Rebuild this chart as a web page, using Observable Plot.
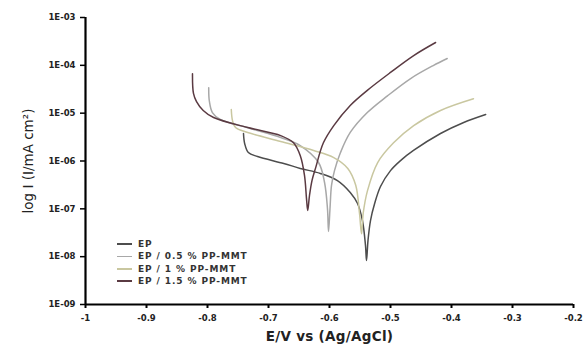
<!DOCTYPE html>
<html>
<head>
<meta charset="utf-8">
<script src="https://cdn.jsdelivr.net/npm/d3@7"></script>
<script src="https://cdn.jsdelivr.net/npm/@observablehq/plot@0.6"></script>
<style>
  html, body { margin: 0; padding: 0; background: #fff; }
  #wrap { position: relative; width: 583px; height: 344px; }
  #legend { position: absolute; left: 117px; top: 238px; font-family: "DejaVu Sans", sans-serif; font-weight: bold; font-size: 9px; letter-spacing: 0.9px; color: #333; }
  .row { display: flex; align-items: center; height: 12.3px; }
  .sw { width: 15px; height: 1.6px; margin-right: 6px; }
</style>
</head>
<body>
<div id="wrap"></div>
<script>
// Series names and colours
const series = ["EP", "EP / 0.5 % PP-MMT", "EP / 1 % PP-MMT", "EP / 1.5 % PP-MMT"];
const colors = ["#4d4d4d", "#a8a8a8", "#c9c7a0", "#5a3a42"];

// EP
const E_EP = [-0.741, -0.739, -0.733, -0.718, -0.675, -0.648, -0.615, -0.587, -0.566, -0.554, -0.546, -0.541, -0.5393, -0.5369, -0.5328, -0.526, -0.5164, -0.500, -0.4836, -0.4623, -0.418, -0.380, -0.344];
const I_EP = [3.76e-6, 2.3e-6, 1.5e-6, 1.24e-6, 8.9e-7, 7.0e-7, 5.5e-7, 3.9e-7, 2.2e-7, 1.29e-7, 5.7e-8, 1.71e-8, 8.3e-9, 2.17e-8, 5.7e-8, 1.29e-7, 2.93e-7, 6.3e-7, 1.02e-6, 1.66e-6, 3.76e-6, 6.4e-6, 9.4e-6];

// EP / 0.5 % PP-MMT
const E_05 = [-0.798, -0.797, -0.792, -0.779, -0.730, -0.680, -0.648, -0.618, -0.6082, -0.6033, -0.6016, -0.5992, -0.5967, -0.5918, -0.582, -0.566, -0.538, -0.505, -0.467, -0.430, -0.407];
const I_05 = [3.4e-5, 1.8e-5, 1.03e-5, 7.4e-6, 4.8e-6, 3.1e-6, 2.1e-6, 9.3e-7, 3.6e-7, 1.0e-7, 3.35e-8, 1.0e-7, 3.1e-7, 6.3e-7, 1.5e-6, 3.95e-6, 1.03e-5, 2.3e-5, 5.3e-5, 9.9e-5, 1.39e-4];

// EP / 1 % PP-MMT
const E_1 = [-0.761, -0.759, -0.754, -0.734, -0.680, -0.626, -0.593, -0.570, -0.557, -0.5508, -0.5475, -0.5448, -0.5377, -0.521, -0.495, -0.462, -0.418, -0.364];
const I_1 = [1.19e-5, 7.0e-6, 5.0e-6, 3.95e-6, 2.56e-6, 1.66e-6, 1.18e-6, 7.0e-7, 3.1e-7, 8.0e-8, 3.0e-8, 8.0e-8, 2.4e-7, 9.3e-7, 2.4e-6, 5.5e-6, 1.14e-5, 2.0e-5];

// EP / 1.5 % PP-MMT
const E_15 = [-0.8246, -0.823, -0.818, -0.807, -0.790, -0.734, -0.680, -0.659, -0.648, -0.641, -0.6377, -0.6357, -0.6328, -0.6287, -0.623, -0.610, -0.593, -0.566, -0.538, -0.500, -0.462, -0.426];
const I_15 = [6.7e-5, 2.6e-5, 1.75e-5, 1.14e-5, 8.1e-6, 5.0e-6, 3.4e-6, 2.4e-6, 1.3e-6, 5.0e-7, 1.64e-7, 9.2e-8, 1.9e-7, 3.9e-7, 7.0e-7, 2.4e-6, 5.5e-6, 1.45e-5, 3.0e-5, 7.1e-5, 1.6e-4, 3.0e-4];

// Ticks
const xTicks = [-1, -0.9, -0.8, -0.7, -0.6, -0.5, -0.4, -0.3, -0.2];
const xTickLabels = ["-1", "-0.9", "-0.8", "-0.7", "-0.6", "-0.5", "-0.4", "-0.3", "-0.2"];
const yTicks = [1e-9, 1e-8, 1e-7, 1e-6, 1e-5, 1e-4, 1e-3];
const yTickLabels = ["1E-09", "1E-08", "1E-07", "1E-06", "1E-05", "1E-04", "1E-03"];

const xTitle = "E/V vs (Ag/AgCl)";
const yTitle = "log I (I/mA cm²)";

const sets = [[E_EP, I_EP], [E_05, I_05], [E_1, I_1], [E_15, I_15]];
const data = sets.flatMap(([E, I], s) => E.map((e, i) => ({E: e, I: I[i], s: series[s]})));

const plot = Plot.plot({
  width: 583,
  height: 344,
  marginLeft: 85,
  marginRight: 10,
  marginTop: 17,
  marginBottom: 40,
  style: {fontFamily: "'DejaVu Sans', sans-serif", background: "#fff", overflow: "visible"},
  x: {domain: [-1, -0.2]},
  y: {type: "log", domain: [1e-9, 1e-3]},
  color: {domain: series, range: colors},
  marks: [
    Plot.axisX({ticks: xTicks, tickFormat: (d) => xTickLabels[xTicks.indexOf(d)], tickSize: 4, tickPadding: 6, strokeWidth: 2, stroke: "#000",
      fontSize: 8.5, fontWeight: "bold", fill: "#222", style: "letter-spacing:0.9px",
      label: xTitle, labelAnchor: "center", labelOffset: 36, labelArrow: false}),
    Plot.axisY({ticks: yTicks, tickFormat: (d) => yTickLabels[yTicks.indexOf(d)], tickSize: 5, tickPadding: 5, strokeWidth: 1.5, stroke: "#000",
      fontSize: 8.5, fontWeight: "bold", fill: "#222", style: "letter-spacing:1.2px",
      label: yTitle, labelAnchor: "center", labelOffset: 62, labelArrow: false}),
    Plot.ruleX([-1], {stroke: "#000", strokeWidth: 2.2}),
    Plot.ruleY([1e-9], {stroke: "#000", strokeWidth: 2.2}),
    Plot.line(data, {x: "E", y: "I", z: "s", stroke: "s", strokeWidth: 1.5, curve: "catmull-rom"})
  ]
});

const wrap = document.getElementById("wrap");
wrap.appendChild(plot);

// style axis titles
plot.querySelectorAll("g[aria-label='x-axis label'] text, g[aria-label='x-axis label']").forEach(el => {
  el.setAttribute("font-size", "13.5"); el.setAttribute("font-weight", "bold"); el.style.letterSpacing = "0.3px"; el.setAttribute("fill", "#222");
});
plot.querySelectorAll("g[aria-label='y-axis label'] text, g[aria-label='y-axis label']").forEach(el => {
  el.setAttribute("font-size", "13.5"); el.setAttribute("font-weight", "normal"); el.style.letterSpacing = "0px"; el.setAttribute("fill", "#222");
});

// legend
const leg = document.createElement("div");
leg.id = "legend";
series.forEach((name, i) => {
  const row = document.createElement("div");
  row.className = "row";
  const sw = document.createElement("span");
  sw.className = "sw";
  sw.style.background = colors[i];
  const t = document.createElement("span");
  t.textContent = name;
  row.appendChild(sw); row.appendChild(t);
  leg.appendChild(row);
});
wrap.appendChild(leg);
</script>
</body>
</html>
